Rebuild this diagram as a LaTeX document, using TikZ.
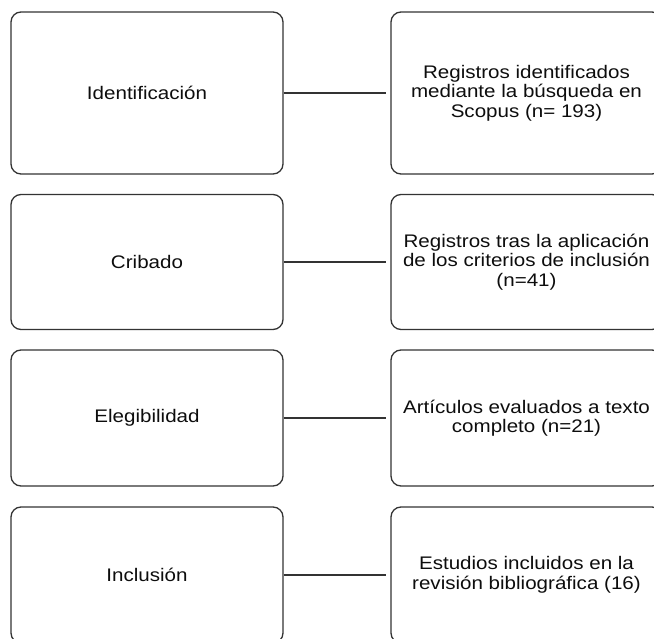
\documentclass[tikz,border=0pt]{standalone}
\usepackage{fontspec}
\setmainfont{Liberation Sans}[FakeStretch=1.13]
\begin{document}
\begin{tikzpicture}[x=1pt,y=-1pt,
  box/.style={draw=black!80, line width=1.3pt, rounded corners=10pt, rectangle,
    minimum width=272pt, inner sep=0pt, align=center, text=black!95,
    font=\fontsize{18.2pt}{19.5pt}\selectfont},
  link/.style={draw=black!80, line width=1.3pt, shorten >=4pt}]
\useasboundingbox (0,0) rectangle (654,639);
\node[box, minimum height=162pt] (l1) at (147,93) {Identificación};
\node[box, minimum height=135pt] (l2) at (147,262) {Cribado};
\node[box, minimum height=136pt] (l3) at (147,418) {Elegibilidad};
\node[box, minimum height=136pt] (l4) at (147,575) {Inclusión};
\node[box, minimum height=162pt, minimum width=271pt] (r1) at (526.5,93) {Registros identificados\\mediante la búsqueda en\\Scopus (n= 193)};
\node[box, minimum height=135pt, minimum width=271pt] (r2) at (526.5,262) {Registros tras la aplicación\\de los criterios de inclusión\\(n=41)};
\node[box, minimum height=136pt, minimum width=271pt] (r3) at (526.5,418) {Artículos evaluados a texto\\completo (n=21)};
\node[box, minimum height=136pt, minimum width=271pt] (r4) at (526.5,575) {Estudios incluidos en la\\revisión bibliográfica (16)};
\draw[link] (l1) -- (r1);
\draw[link] (l2) -- (r2);
\draw[link] (l3) -- (r3);
\draw[link] (l4) -- (r4);
\end{tikzpicture}
\end{document}
